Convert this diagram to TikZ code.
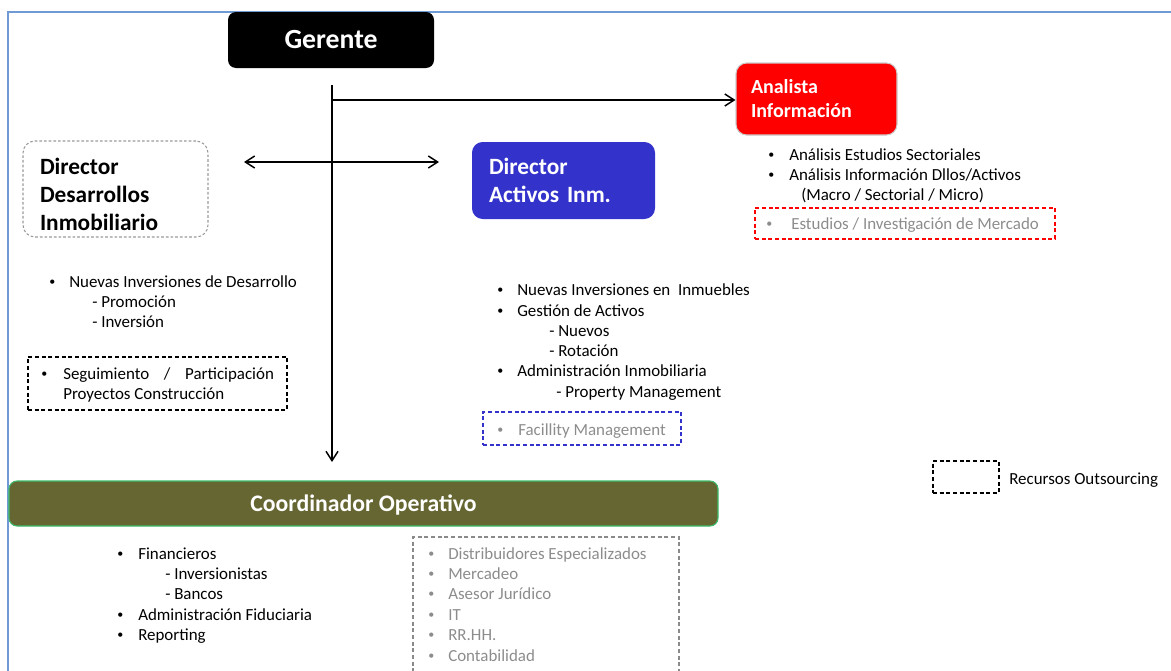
\documentclass[tikz,border=0pt]{standalone}
\usepackage{fontspec}
\setmainfont{Carlito}
\usetikzlibrary{arrows.meta}
\definecolor{frameblue}{HTML}{6F9AD3}
\definecolor{dirblue}{HTML}{3333CC}
\definecolor{olive}{HTML}{666633}
\definecolor{olivebd}{HTML}{3DBB6A}
\definecolor{greytext}{HTML}{8C8C8C}
\definecolor{dashgrey}{HTML}{8A8A8A}
\tikzset{
  lbl/.style={anchor=base west, inner sep=0pt, font=\fontsize{12.7}{15}\selectfont},
  glbl/.style={lbl, text=greytext},
  blt/.style={lbl, font=\fontsize{9}{9}\selectfont, yshift=0.9pt},
  gblt/.style={blt, text=greytext},
  barb/.tip={Straight Barb[length=7pt,width=9pt,line width=1.1pt]},
  conn/.style={line width=1.1pt, -barb},
  title/.style={font=\bfseries\fontsize{17.5}{21}\selectfont, text=white, inner sep=0pt},
  dbox/.style={draw, dash pattern=on 3pt off 2pt, line width=0.9pt},
}
\begin{document}
\begin{tikzpicture}[x=0.75pt,y=-0.75pt]
\useasboundingbox (0,0) rectangle (1171,671);
% outer frame
\draw[frameblue, line width=1.4pt] (8,671) -- (8,12) -- (1171,12);

% manager
\node[fill=black, rounded corners=6pt, minimum width=206*0.75pt, minimum height=56*0.75pt,
      title, font=\bfseries\fontsize{20.8}{24}\selectfont, text height=13.4pt, text depth=0pt] (ger) at (331,40) {Gerente};

% directors and analyst
\node[draw=black!40, dash pattern=on 2pt off 1.5pt, line width=0.8pt, rounded corners=9pt,
      minimum width=185*0.75pt, minimum height=96*0.75pt, text width=151*0.75pt, align=left,
      inner xsep=17*0.75pt, font=\bfseries\fontsize{17.5}{21}\selectfont] (dd) at (115.5,189)
      {\rule{0pt}{20pt}Director\\Desarrollos\\Inmobiliario};
\node[fill=dirblue, rounded corners=8pt, minimum width=183*0.75pt, minimum height=77*0.75pt,
      text width=149*0.75pt, align=left, inner xsep=17*0.75pt, title] (da) at (563.5,180.5)
      {Director\\Activos Inm.};
\node[fill=red, draw=black!20, line width=0.8pt, rounded corners=8pt, minimum width=161*0.75pt,
      minimum height=72*0.75pt, text width=131*0.75pt, align=left, inner xsep=15*0.75pt,
      inner ysep=0pt, title, font=\bfseries\fontsize{15}{18}\selectfont] (an) at (816.5,99)
      {Analista\\Información};

% operations coordinator
\node[fill=olive, draw=olivebd, line width=0.8pt, rounded corners=6pt, minimum width=709*0.75pt,
      minimum height=45*0.75pt, title, font=\bfseries\fontsize{17.8}{21}\selectfont,
      text height=11.5pt, text depth=0pt] (co) at (363.5,503.5) {Coordinador Operativo};

% connectors
\coordinate (vtop) at (332,85);
\coordinate (vbot) at (332,462);
\coordinate (hsrc) at (331,100);
\coordinate (dl) at (244,162);
\coordinate (dr) at (439,162);
\draw[conn] (vtop) -- (vbot);
\draw[conn] (hsrc) -- (an.west |- hsrc);
\draw[line width=1.1pt, barb-barb] (dl) -- (dr);

% analyst duties
\node[blt] (anb1) at (768,160) {•};
\node[lbl] (ant1) at (789,160) {Análisis Estudios Sectoriales};
\node[blt] (anb2) at (768,180) {•};
\node[lbl] (ant2) at (789,180) {Análisis Información Dllos/Activos};
\node[lbl] (ant3) at (801,200) {(Macro / Sectorial / Micro)};
\node[dbox, draw=red, minimum width=300*0.75pt, minimum height=31*0.75pt, inner sep=0pt] (anbox) at (905,223.5) {};
\node[gblt] (anb4) at (766,229) {•};
\node[glbl] (ant4) at (791,229) {Estudios / Investigación de Mercado};

% development director duties
\node[blt] (ddb1) at (49,287) {•};
\node[lbl] (ddt1) at (69,287) {Nuevas Inversiones de Desarrollo};
\node[lbl] (ddt2) at (92,307) {- Promoción};
\node[lbl] (ddt3) at (92,327) {- Inversión};
\node[dbox, draw=black, minimum width=259*0.75pt, minimum height=53*0.75pt, inner sep=0pt] (ddbox) at (157.5,383.5) {};
\node[blt] (ddb4) at (41,379) {•};
\node[lbl] (ddt4) at (63,379) {\makebox[158pt][s]{Seguimiento / Participación}};
\node[lbl] (ddt5) at (63,399) {Proyectos Construcción};

% asset director duties
\node[blt] (dab1) at (497,295) {•};
\node[lbl] (dat1) at (517,295) {Nuevas Inversiones en\ \ Inmuebles};
\node[blt] (dab2) at (497,316) {•};
\node[lbl] (dat2) at (517,316) {Gestión de Activos};
\node[lbl] (dat3) at (549,336) {- Nuevos};
\node[lbl] (dat4) at (549,356) {- Rotación};
\node[blt] (dab5) at (497,376) {•};
\node[lbl] (dat5) at (517,376) {Administración Inmobiliaria};
\node[lbl] (dat6) at (556,397) {- Property Management};
\node[dbox, draw=dirblue, minimum width=198*0.75pt, minimum height=33*0.75pt, inner sep=0pt] (dabox) at (582,428.5) {};
\node[gblt] (dab7) at (497,435) {•};
\node[glbl] (dat7) at (518,435) {Facillity Management};

% legend
\node[dbox, draw=black, minimum width=66*0.75pt, minimum height=32*0.75pt, inner sep=0pt] (leg) at (966,477) {};
\node[lbl] (legt) at (1009,484) {Recursos Outsourcing};

% coordinator duties
\node[blt] (cob1) at (117,559) {•};
\node[lbl] (cot1) at (138,559) {Financieros};
\node[lbl] (cot2) at (165,579) {- Inversionistas};
\node[lbl] (cot3) at (165,599) {- Bancos};
\node[blt] (cob4) at (117,620) {•};
\node[lbl] (cot4) at (138,620) {Administración Fiduciaria};
\node[blt] (cob5) at (117,640) {•};
\node[lbl] (cot5) at (138,640) {Reporting};

% outsourced services
\node[dbox, draw=dashgrey, minimum width=266*0.75pt, minimum height=150*0.75pt, inner sep=0pt] (cobox) at (546,612) {};
\foreach \n/\yy/\t in {1/559/Distribuidores Especializados, 2/579/Mercadeo, 3/599/Asesor Jurídico,
                       4/620/IT, 5/640/RR.HH., 6/661/Contabilidad} {
  \node[gblt] (osb\n) at (428,\yy) {•};
  \node[glbl] (ost\n) at (448,\yy) {\t};
}
\end{tikzpicture}
\end{document}
